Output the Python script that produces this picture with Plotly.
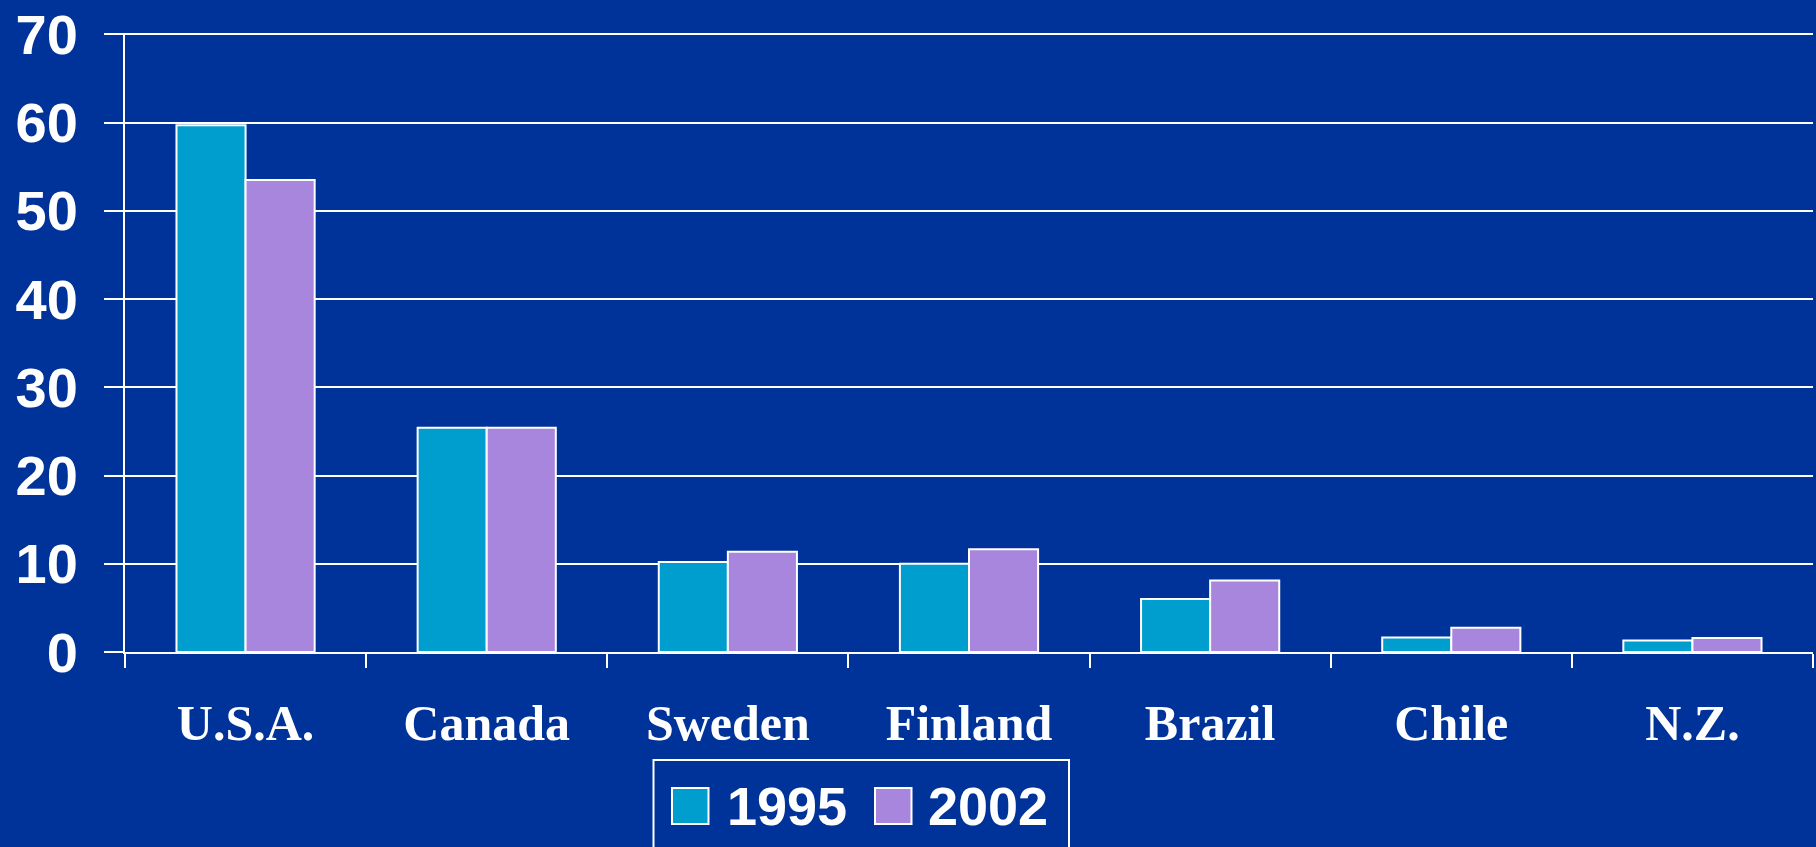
import plotly.graph_objects as go

categories = ["U.S.A.", "Canada", "Sweden", "Finland", "Brazil", "Chile", "N.Z."]
values_1995 = [59.7, 25.4, 10.2, 10.0, 6.0, 1.65, 1.3]
values_2002 = [53.5, 25.4, 11.35, 11.65, 8.1, 2.75, 1.6]
series_names = ["1995", "2002"]
y_ticks = [0, 10, 20, 30, 40, 50, 60, 70]

BG = "#003399"
C1995 = "#009ECE"
C2002 = "#A886DD"
WHITE = "#FFFFFF"

fig = go.Figure()
fig.add_trace(go.Bar(x=categories, y=values_1995, name=series_names[0],
                     marker=dict(color=C1995, line=dict(color=WHITE, width=2))))
fig.add_trace(go.Bar(x=categories, y=values_2002, name=series_names[1],
                     marker=dict(color=C2002, line=dict(color=WHITE, width=2))))

W, H = 1816, 847
ML, MR, MT, MB = 125, 3, 33, 195
pw = W - ML - MR
ph = H - MT - MB

def px_x(p):
    return (p - ML) / pw

def px_y(p):
    return (H - MB - p) / ph

fig.update_layout(
    width=W, height=H,
    margin=dict(l=ML, r=MR, t=MT, b=MB, pad=0),
    paper_bgcolor=BG, plot_bgcolor=BG,
    barmode="group", bargap=0.427, bargroupgap=0,
    showlegend=False,
    xaxis=dict(
        showline=True, linecolor=WHITE, linewidth=2,
        ticks="outside", tickson="boundaries", ticklen=14, tickwidth=2, tickcolor=WHITE,
        showgrid=False,
        tickfont=dict(family="Liberation Serif", size=50, color=WHITE, weight="bold"),
        ticklabelstandoff=26,
    ),
    yaxis=dict(
        range=[0, 70.15], tickvals=y_ticks, ticktext=[str(v) for v in y_ticks],
        showline=True, linecolor=WHITE, linewidth=2,
        showgrid=True, gridcolor=WHITE, gridwidth=2,
        zeroline=False,
        ticks="outside", ticklen=19, tickwidth=2, tickcolor=WHITE,
        tickfont=dict(family="Liberation Sans", size=56, color=WHITE, weight="bold"),
        ticklabelstandoff=15,
    ),
)

# Legend drawn manually (large swatches)
shapes = [
    dict(type="rect", xref="paper", yref="paper",
         x0=px_x(653.5), x1=px_x(1069), y0=px_y(880), y1=px_y(760),
         line=dict(color=WHITE, width=2), fillcolor=BG, layer="above"),
    dict(type="rect", xref="paper", yref="paper",
         x0=px_x(672), x1=px_x(708.5), y0=px_y(824), y1=px_y(788),
         line=dict(color=WHITE, width=2), fillcolor=C1995, layer="above"),
    dict(type="rect", xref="paper", yref="paper",
         x0=px_x(875), x1=px_x(911.5), y0=px_y(824), y1=px_y(788),
         line=dict(color=WHITE, width=2), fillcolor=C2002, layer="above"),
]
annotations = [
    dict(text=series_names[0], xref="paper", yref="paper", x=px_x(725), y=px_y(806),
         xanchor="left", yanchor="middle", showarrow=False,
         font=dict(family="Liberation Sans", size=54, color=WHITE, weight="bold")),
    dict(text=series_names[1], xref="paper", yref="paper", x=px_x(926), y=px_y(806),
         xanchor="left", yanchor="middle", showarrow=False,
         font=dict(family="Liberation Sans", size=54, color=WHITE, weight="bold")),
]
fig.update_layout(shapes=shapes, annotations=annotations)

fig.write_html(
    "out.html",
    config={"displayModeBar": False},
    post_script="document.body.style.margin='0';document.body.style.padding='0';document.body.style.overflow='hidden';document.body.style.background='" + BG + "';",
)
